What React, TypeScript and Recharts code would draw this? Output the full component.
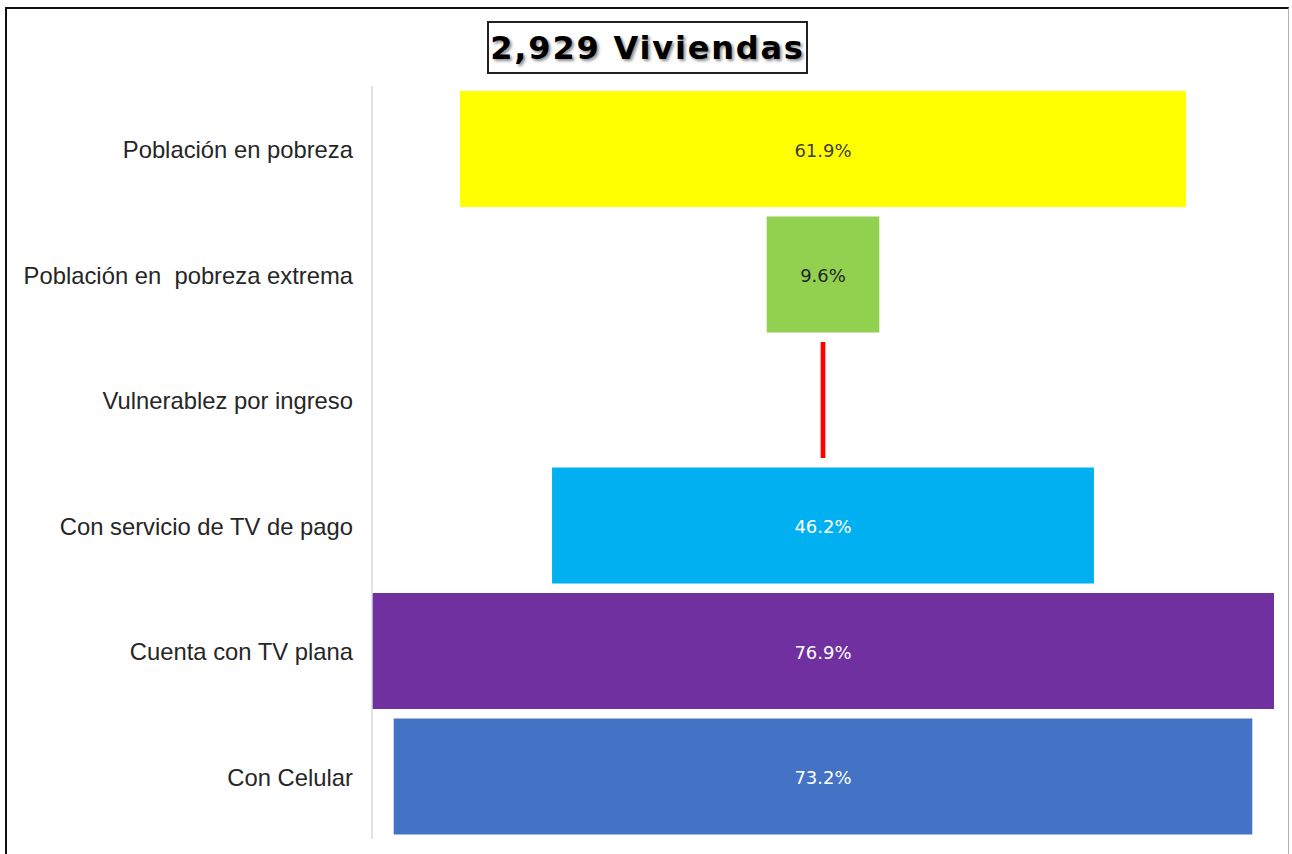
import React from 'react';
import { BarChart, Bar, XAxis, YAxis, Cell, LabelList } from 'recharts';

const categories = [
  'Población en pobreza',
  'Población en  pobreza extrema',
  'Vulnerablez por ingreso',
  'Con servicio de TV de pago',
  'Cuenta con TV plana',
  'Con Celular',
];
const values = [61.9, 9.6, 0.4, 46.2, 76.9, 73.2];
const colors = ['#FFFF00', '#92D050', '#FF0000', '#00B0F0', '#7030A0', '#4472C4'];
const labelColors = ['#404040', '#262626', 'none', '#ffffff', '#ffffff', '#ffffff'];
const showLabel = [true, true, false, true, true, true];

const maxValue = Math.max(...values);

// funnel: an invisible offset bar pushes each value bar to the centre
const data = categories.map((name, i) => ({
  name,
  offset: (maxValue - values[i]) / 2,
  value: values[i],
}));

const ValueLabel = (props: any) => {
  const { x, y, width, height, index, value } = props;
  if (!showLabel[index]) return null;
  return (
    <text
      x={x + width / 2}
      y={y + height / 2 + 1}
      fill={labelColors[index]}
      textAnchor="middle"
      dominantBaseline="central"
      fontSize={18}
      fontFamily="'DejaVu Sans', sans-serif"
    >
      {value.toFixed(1)}%
    </text>
  );
};

const CategoryTick = (props: any) => {
  const { y, payload } = props;
  return (
    <text
      x={353}
      y={y + 1}
      textAnchor="end"
      dominantBaseline="central"
      fill="#262626"
      fontSize={23.8}
      fontFamily="'Liberation Sans', Arial, sans-serif"
      style={{ whiteSpace: 'pre' }}
    >
      {payload.value}
    </text>
  );
};

export default function App() {
  return (
    <div style={{ position: 'absolute', left: 0, top: 0, width: 1292, height: 854, background: '#fff', overflow: 'hidden' }}>
      <div
        style={{
          position: 'absolute',
          left: 5,
          top: 7,
          width: 1281,
          height: 860,
          borderLeft: '2px solid #111',
          borderTop: '2px solid #111',
          borderRight: '1px solid #b0b0b0',
        }}
      />
      <div
        style={{
          position: 'absolute',
          left: 487,
          top: 21,
          width: 317,
          height: 49,
          border: '2px solid #222',
          display: 'flex',
          alignItems: 'center',
          justifyContent: 'center',
          fontFamily: "'DejaVu Sans', sans-serif",
          fontWeight: 'bold',
          fontSize: 32,
          letterSpacing: 1.8,
          color: '#000',
          textShadow: '2px 2px 3px rgba(0,0,0,0.45)',
          zIndex: 2,
        }}
      >
        2,929 Viviendas
      </div>
      <div style={{ position: 'absolute', left: 0, top: 0 }}>
        <BarChart
          width={1292}
          height={854}
          data={data}
          layout="vertical"
          margin={{ top: 86, right: 18, bottom: 15, left: 0 }}
          barCategoryGap={5}
        >
          <XAxis type="number" domain={[0, maxValue]} hide />
          <YAxis
            type="category"
            dataKey="name"
            width={372}
            axisLine={{ stroke: '#d9d9d9', strokeWidth: 1.5 }}
            tickLine={false}
            tick={<CategoryTick />}
            interval={0}
          />
          <Bar dataKey="offset" stackId="f" fill="transparent" isAnimationActive={false} />
          <Bar dataKey="value" stackId="f" isAnimationActive={false}>
            {data.map((d, i) => (
              <Cell key={d.name} fill={colors[i]} />
            ))}
            <LabelList dataKey="value" content={<ValueLabel />} />
          </Bar>
        </BarChart>
      </div>
    </div>
  );
}
